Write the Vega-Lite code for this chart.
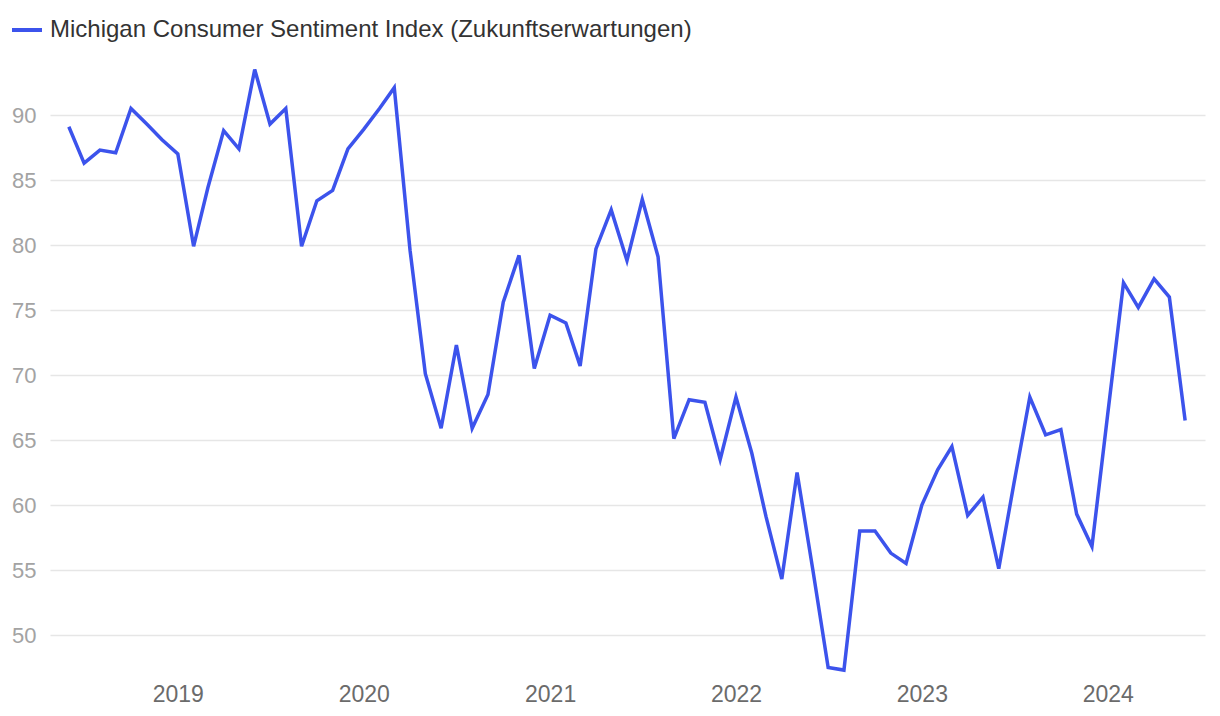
{
  "$schema": "https://vega.github.io/schema/vega-lite/v6.json",
  "autosize": "none",
  "width": 1155,
  "height": 611,
  "padding": {"left": 50, "top": 63, "right": 15, "bottom": 42},
  "background": "white",
  "config": {
    "view": {"stroke": null},
    "font": "Liberation Sans"
  },
  "data": {
    "values": [
      {"date": "2018-06-01T00:00", "value": 89.1},
      {"date": "2018-07-01T00:00", "value": 86.3},
      {"date": "2018-08-01T00:00", "value": 87.3},
      {"date": "2018-09-01T00:00", "value": 87.1},
      {"date": "2018-10-01T00:00", "value": 90.5},
      {"date": "2018-11-01T00:00", "value": 89.3},
      {"date": "2018-12-01T00:00", "value": 88.1},
      {"date": "2019-01-01T00:00", "value": 87.0},
      {"date": "2019-02-01T00:00", "value": 79.9},
      {"date": "2019-03-01T00:00", "value": 84.4},
      {"date": "2019-04-01T00:00", "value": 88.8},
      {"date": "2019-05-01T00:00", "value": 87.4},
      {"date": "2019-06-01T00:00", "value": 93.5},
      {"date": "2019-07-01T00:00", "value": 89.3},
      {"date": "2019-08-01T00:00", "value": 90.5},
      {"date": "2019-09-01T00:00", "value": 79.9},
      {"date": "2019-10-01T00:00", "value": 83.4},
      {"date": "2019-11-01T00:00", "value": 84.2},
      {"date": "2019-12-01T00:00", "value": 87.4},
      {"date": "2020-01-01T00:00", "value": 88.9},
      {"date": "2020-02-01T00:00", "value": 90.5},
      {"date": "2020-03-01T00:00", "value": 92.1},
      {"date": "2020-04-01T00:00", "value": 79.6},
      {"date": "2020-05-01T00:00", "value": 70.1},
      {"date": "2020-06-01T00:00", "value": 65.9},
      {"date": "2020-07-01T00:00", "value": 72.3},
      {"date": "2020-08-01T00:00", "value": 65.9},
      {"date": "2020-09-01T00:00", "value": 68.5},
      {"date": "2020-10-01T00:00", "value": 75.6},
      {"date": "2020-11-01T00:00", "value": 79.2},
      {"date": "2020-12-01T00:00", "value": 70.5},
      {"date": "2021-01-01T00:00", "value": 74.6},
      {"date": "2021-02-01T00:00", "value": 74.0},
      {"date": "2021-03-01T00:00", "value": 70.7},
      {"date": "2021-04-01T00:00", "value": 79.7},
      {"date": "2021-05-01T00:00", "value": 82.7},
      {"date": "2021-06-01T00:00", "value": 78.8},
      {"date": "2021-07-01T00:00", "value": 83.5},
      {"date": "2021-08-01T00:00", "value": 79.1},
      {"date": "2021-09-01T00:00", "value": 65.1},
      {"date": "2021-10-01T00:00", "value": 68.1},
      {"date": "2021-11-01T00:00", "value": 67.9},
      {"date": "2021-12-01T00:00", "value": 63.5},
      {"date": "2022-01-01T00:00", "value": 68.3},
      {"date": "2022-02-01T00:00", "value": 64.0},
      {"date": "2022-03-01T00:00", "value": 59.1},
      {"date": "2022-04-01T00:00", "value": 54.3},
      {"date": "2022-05-01T00:00", "value": 62.5},
      {"date": "2022-06-01T00:00", "value": 55.0},
      {"date": "2022-07-01T00:00", "value": 47.5},
      {"date": "2022-08-01T00:00", "value": 47.3},
      {"date": "2022-09-01T00:00", "value": 58.0},
      {"date": "2022-10-01T00:00", "value": 58.0},
      {"date": "2022-11-01T00:00", "value": 56.3},
      {"date": "2022-12-01T00:00", "value": 55.5},
      {"date": "2023-01-01T00:00", "value": 60.0},
      {"date": "2023-02-01T00:00", "value": 62.7},
      {"date": "2023-03-01T00:00", "value": 64.5},
      {"date": "2023-04-01T00:00", "value": 59.2},
      {"date": "2023-05-01T00:00", "value": 60.6},
      {"date": "2023-06-01T00:00", "value": 55.1},
      {"date": "2023-07-01T00:00", "value": 61.7},
      {"date": "2023-08-01T00:00", "value": 68.3},
      {"date": "2023-09-01T00:00", "value": 65.4},
      {"date": "2023-10-01T00:00", "value": 65.8},
      {"date": "2023-11-01T00:00", "value": 59.3},
      {"date": "2023-12-01T00:00", "value": 56.8},
      {"date": "2024-01-01T00:00", "value": 67.0},
      {"date": "2024-02-01T00:00", "value": 77.1},
      {"date": "2024-03-01T00:00", "value": 75.2},
      {"date": "2024-04-01T00:00", "value": 77.4},
      {"date": "2024-05-01T00:00", "value": 76.0},
      {"date": "2024-06-01T00:00", "value": 66.5}
    ]
  },
  "mark": {"type": "line", "strokeWidth": 3.5, "strokeJoin": "miter", "strokeCap": "butt"},
  "encoding": {
    "x": {
      "field": "date",
      "type": "temporal",
      "scale": {"domain": [{"year": 2018, "month": 4, "date": 25}, {"year": 2024, "month": 7, "date": 10}]},
      "axis": {
        "title": null,
        "format": "%Y",
        "tickCount": "year",
        "grid": false,
        "domain": false,
        "ticks": false,
        "labelFlush": false,
        "labelFontSize": 23,
        "labelColor": "#6b6b6b",
        "labelPadding": 9,
        "labelFont": "Liberation Sans"
      }
    },
    "y": {
      "field": "value",
      "type": "quantitative",
      "scale": {"domain": [47, 94], "nice": false, "zero": false},
      "axis": {
        "title": null,
        "values": [50, 55, 60, 65, 70, 75, 80, 85, 90],
        "grid": true,
        "gridColor": "#e6e6e6",
        "gridWidth": 1.5,
        "domain": false,
        "ticks": false,
        "labelFontSize": 22,
        "labelColor": "#a3a3a3",
        "labelPadding": 14,
        "labelFont": "Liberation Sans"
      }
    },
    "color": {
      "datum": "Michigan Consumer Sentiment Index (Zukunftserwartungen)",
      "scale": {"range": ["#3c53ec"]},
      "legend": {
        "title": null,
        "orient": "none",
        "legendX": -40,
        "legendY": -50,
        "symbolType": "stroke",
        "symbolSize": 900,
        "symbolStrokeWidth": 4,
        "labelFontSize": 24,
        "labelColor": "#333333",
        "labelFont": "Liberation Sans",
        "labelLimit": 1000,
        "labelOffset": 6
      }
    }
  }
}
